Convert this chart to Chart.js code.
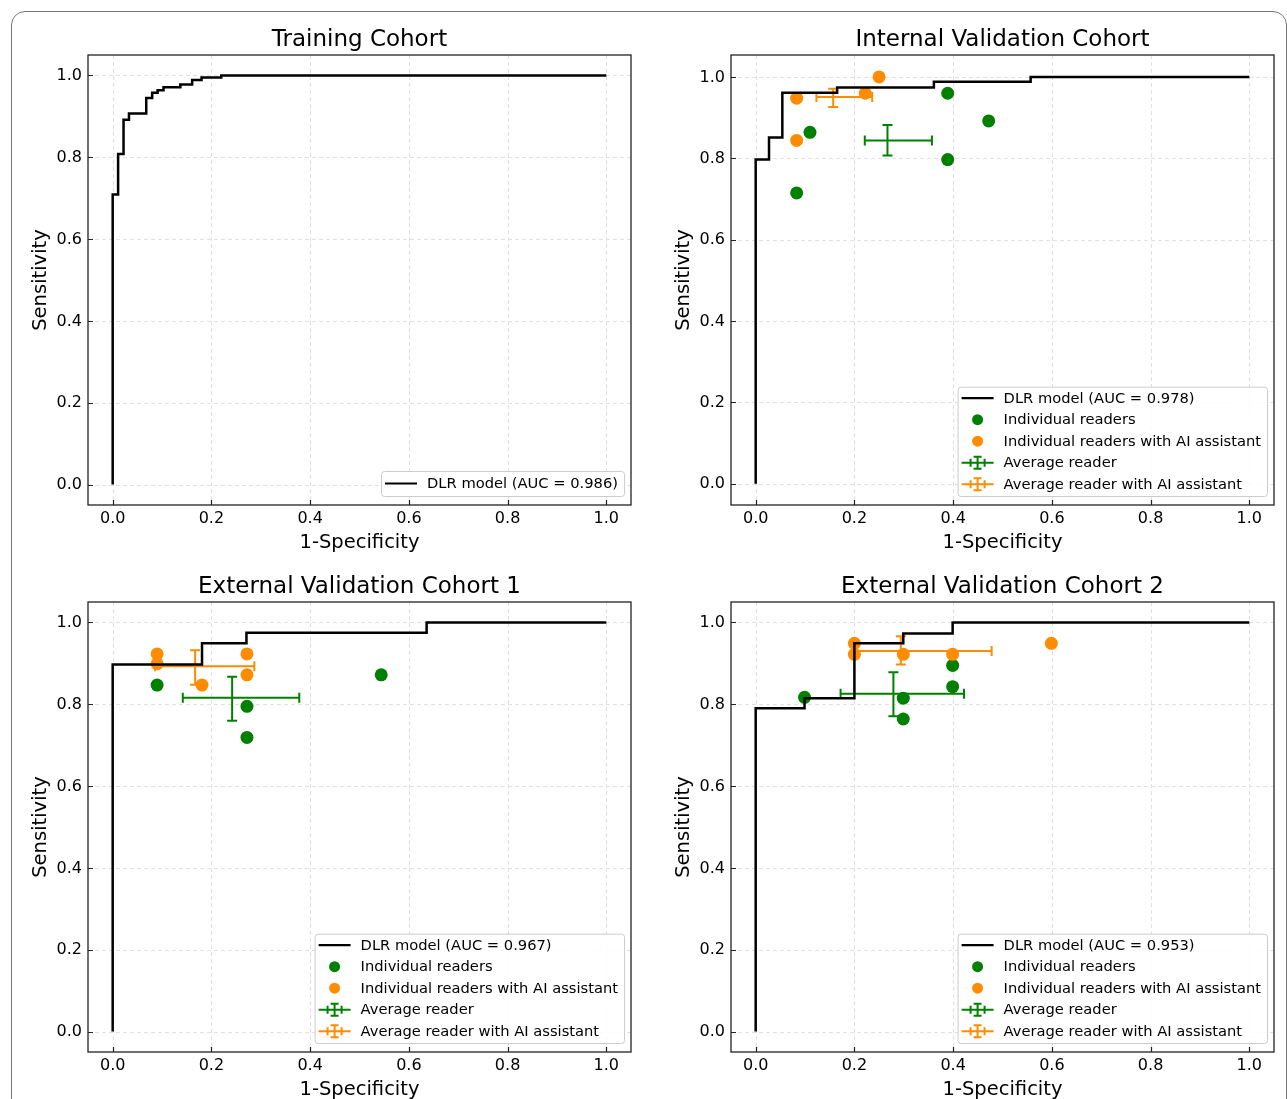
<!DOCTYPE html>
<html>
<head>
<meta charset="utf-8">
<script src="https://cdn.jsdelivr.net/npm/chart.js@4.4.0/dist/chart.umd.min.js"></script>
<style>
  body { margin: 0; background: #fff; width: 1287px; height: 1099px; overflow: hidden; position: relative; }
  #frame { position: absolute; left: 11px; top: 11px; width: 1274px; height: 1200px; border: 1px solid #777; border-radius: 14px; }
  canvas { position: absolute; }
</style>
</head>
<body>
<div id="frame"></div>
<canvas id="c0" width="643" height="555" style="left:0px;top:0px"></canvas>
<canvas id="c1" width="644" height="555" style="left:643px;top:0px"></canvas>
<canvas id="c2" width="643" height="544" style="left:0px;top:555px"></canvas>
<canvas id="c3" width="644" height="544" style="left:643px;top:555px"></canvas>
<script>
// ---- data ----
const xTicks = [0.0, 0.2, 0.4, 0.6, 0.8, 1.0];
const yTicks = [0.0, 0.2, 0.4, 0.6, 0.8, 1.0];

// Training cohort ROC
const trainFpr = [0, 0, 0.011, 0.011, 0.022, 0.022, 0.033, 0.033, 0.068, 0.068, 0.080, 0.080, 0.091, 0.091, 0.103, 0.103, 0.137, 0.137, 0.161, 0.161, 0.180, 0.180, 0.220, 0.220, 1.0];
const trainTpr = [0, 0.709, 0.709, 0.808, 0.808, 0.892, 0.892, 0.907, 0.907, 0.945, 0.945, 0.958, 0.958, 0.964, 0.964, 0.971, 0.971, 0.978, 0.978, 0.989, 0.989, 0.995, 0.995, 1.0, 1.0];

// Internal validation
const intFpr = [0, 0, 0.027, 0.027, 0.054, 0.054, 0.165, 0.165, 0.361, 0.361, 0.557, 0.557, 1.0];
const intTpr = [0, 0.797, 0.797, 0.851, 0.851, 0.961, 0.961, 0.974, 0.974, 0.988, 0.988, 1.0, 1.0];
const intReaderX = [0.083, 0.110, 0.389, 0.389, 0.472];
const intReaderY = [0.715, 0.864, 0.960, 0.797, 0.892];
const intAiX = [0.083, 0.083, 0.250, 0.222];
const intAiY = [0.948, 0.844, 1.0, 0.960];
// [x, xLow, xHigh, y, yLow, yHigh]
const intAvg = [0.267, 0.221, 0.357, 0.844, 0.807, 0.882];
const intAvgAi = [0.157, 0.123, 0.236, 0.951, 0.926, 0.971];

// External validation 1
const ext1Fpr = [0, 0, 0.181, 0.181, 0.271, 0.271, 0.636, 0.636, 1.0];
const ext1Tpr = [0, 0.897, 0.897, 0.949, 0.949, 0.975, 0.975, 1.0, 1.0];
const ext1ReaderX = [0.090, 0.272, 0.272, 0.544];
const ext1ReaderY = [0.847, 0.795, 0.719, 0.872];
const ext1AiX = [0.090, 0.090, 0.272, 0.272, 0.181];
const ext1AiY = [0.923, 0.899, 0.923, 0.872, 0.847];
const ext1Avg = [0.242, 0.142, 0.378, 0.816, 0.760, 0.867];
const ext1AvgAi = [0.167, 0.086, 0.287, 0.893, 0.848, 0.932];

// External validation 2
const ext2Fpr = [0, 0, 0.099, 0.099, 0.200, 0.200, 0.299, 0.299, 0.399, 0.399, 1.0];
const ext2Tpr = [0, 0.790, 0.790, 0.815, 0.815, 0.949, 0.949, 0.973, 0.973, 1.0, 1.0];
const ext2ReaderX = [0.099, 0.299, 0.299, 0.399, 0.399];
const ext2ReaderY = [0.817, 0.815, 0.764, 0.895, 0.843];
const ext2AiX = [0.200, 0.200, 0.299, 0.399, 0.599];
const ext2AiY = [0.949, 0.922, 0.922, 0.922, 0.949];
const ext2Avg = [0.279, 0.172, 0.422, 0.826, 0.771, 0.878];
const ext2AvgAi = [0.294, 0.202, 0.478, 0.930, 0.897, 0.966];

const GREEN = '#008000';
const ORANGE = '#ff8c00';
const FONT = '"DejaVu Sans", sans-serif';

Chart.defaults.font.family = FONT;

function pts(xs, ys) {
    return xs.map((x, i) => ({ x: x, y: ys[i] }));
}

// errorbar drawn from the scales
function drawErrorBar(ctx, xs, ys, e, color) {
    const cap = 5;
    const px = xs.getPixelForValue(e[0]), pxl = xs.getPixelForValue(e[1]), pxh = xs.getPixelForValue(e[2]);
    const py = ys.getPixelForValue(e[3]), pyl = ys.getPixelForValue(e[4]), pyh = ys.getPixelForValue(e[5]);
    ctx.strokeStyle = color;
    ctx.lineWidth = 2;
    ctx.beginPath();
    ctx.moveTo(pxl, py); ctx.lineTo(pxh, py);
    ctx.moveTo(px, pyl); ctx.lineTo(px, pyh);
    ctx.moveTo(pxl, py - cap); ctx.lineTo(pxl, py + cap);
    ctx.moveTo(pxh, py - cap); ctx.lineTo(pxh, py + cap);
    ctx.moveTo(px - cap, pyl); ctx.lineTo(px + cap, pyl);
    ctx.moveTo(px - cap, pyh); ctx.lineTo(px + cap, pyh);
    ctx.stroke();
}

function drawLegend(ctx, area, items) {
    ctx.save();
    ctx.font = '14.7px ' + FONT;
    const tw = Math.max(...items.map(it => ctx.measureText(it.label).width));
    const rowH = 21.5;
    const w = 4 + 32 + 10 + tw + 6;
    const h = items.length === 1 ? 25 : (items.length - 1) * rowH + 23.3;
    const right = area.right - 7, bottom = area.bottom - 9;
    const left = right - w, top = bottom - h;
    ctx.fillStyle = 'rgba(255,255,255,0.85)';
    ctx.strokeStyle = '#cccccc';
    ctx.lineWidth = 1;
    ctx.beginPath();
    ctx.roundRect(left + 0.5, top + 0.5, w, h, 3);
    ctx.fill();
    ctx.stroke();
    items.forEach((it, i) => {
        const y = top + (items.length === 1 ? 12.5 : 11.5) + i * rowH;
        const hx = left + 4, cx = hx + 16;
        if (it.kind === 'line') {
            ctx.strokeStyle = '#000'; ctx.lineWidth = 2.2;
            ctx.beginPath(); ctx.moveTo(hx, y); ctx.lineTo(hx + 32, y); ctx.stroke();
        } else if (it.kind === 'dot') {
            ctx.fillStyle = it.color;
            ctx.beginPath(); ctx.arc(cx, y, 5.5, 0, Math.PI * 2); ctx.fill();
        } else {
            ctx.strokeStyle = it.color; ctx.lineWidth = 2;
            ctx.beginPath();
            ctx.moveTo(hx, y); ctx.lineTo(hx + 32, y);
            ctx.moveTo(cx - 7, y - 4); ctx.lineTo(cx - 7, y + 4);
            ctx.moveTo(cx + 7, y - 4); ctx.lineTo(cx + 7, y + 4);
            ctx.moveTo(cx, y - 6); ctx.lineTo(cx, y + 6);
            ctx.moveTo(cx - 4, y - 6); ctx.lineTo(cx + 4, y - 6);
            ctx.moveTo(cx - 4, y + 6); ctx.lineTo(cx + 4, y + 6);
            ctx.stroke();
        }
        ctx.fillStyle = '#000';
        ctx.textAlign = 'left';
        ctx.textBaseline = 'middle';
        ctx.fillText(it.label, left + 46, y + 0.5);
    });
    ctx.restore();
}

const panelPlugin = {
    id: 'panelPlugin',
    beforeDatasetsDraw(chart) {
        const { ctx, chartArea: a, scales } = chart;
        const p = chart.options.plugins.panelPlugin;
        ctx.save();
        // dashed grid
        ctx.strokeStyle = '#e1e1e1';
        ctx.lineWidth = 1;
        ctx.setLineDash([4, 3]);
        ctx.beginPath();
        xTicks.forEach(v => {
            const x = Math.round(scales.x.getPixelForValue(v)) + 0.5;
            ctx.moveTo(x, a.top); ctx.lineTo(x, a.bottom);
        });
        yTicks.forEach(v => {
            const y = Math.round(scales.y.getPixelForValue(v)) + 0.5;
            ctx.moveTo(a.left, y); ctx.lineTo(a.right, y);
        });
        ctx.stroke();
        ctx.setLineDash([]);
        // error bars under the points
        ctx.beginPath();
        ctx.rect(a.left, a.top, a.right - a.left, a.bottom - a.top);
        ctx.clip();
        if (p.avg) drawErrorBar(ctx, scales.x, scales.y, p.avg, GREEN);
        if (p.avgAi) drawErrorBar(ctx, scales.x, scales.y, p.avgAi, ORANGE);
        ctx.restore();
    },
    afterDraw(chart) {
        const { ctx, chartArea: a, scales } = chart;
        const p = chart.options.plugins.panelPlugin;
        ctx.save();
        // frame
        ctx.strokeStyle = '#222';
        ctx.lineWidth = 1.3;
        ctx.strokeRect(a.left, a.top, a.right - a.left, a.bottom - a.top);
        // inward ticks
        ctx.beginPath();
        xTicks.forEach(v => {
            const x = Math.round(scales.x.getPixelForValue(v)) + 0.5;
            ctx.moveTo(x, a.bottom); ctx.lineTo(x, a.bottom - 5);
        });
        yTicks.forEach(v => {
            const y = Math.round(scales.y.getPixelForValue(v)) + 0.5;
            ctx.moveTo(a.left, y); ctx.lineTo(a.left + 5, y);
        });
        ctx.lineWidth = 1.2;
        ctx.stroke();
        // tick labels
        ctx.fillStyle = '#000';
        ctx.font = '16px ' + FONT;
        ctx.textBaseline = 'middle';
        ctx.textAlign = 'center';
        xTicks.forEach(v => ctx.fillText(v.toFixed(1), scales.x.getPixelForValue(v), a.bottom + 13.5));
        ctx.textAlign = 'right';
        yTicks.forEach(v => ctx.fillText(v.toFixed(1), a.left - 6, scales.y.getPixelForValue(v) + 0.5));
        // titles
        const mid = (a.left + a.right) / 2;
        ctx.textAlign = 'center';
        ctx.font = '23px ' + FONT;
        ctx.fillText(p.title, mid, a.top - 15);
        ctx.font = '19.5px ' + FONT;
        ctx.fillText('1-Specificity', mid, a.bottom + 38);
        ctx.save();
        ctx.translate(a.left - 47, (a.top + a.bottom) / 2);
        ctx.rotate(-Math.PI / 2);
        ctx.fillText('Sensitivity', 0, 0);
        ctx.restore();
        ctx.restore();
        drawLegend(ctx, a, p.legend);
    }
};

function makeChart(id, cfg) {
    const cv = document.getElementById(id);
    const left = parseFloat(cv.style.left), top = parseFloat(cv.style.top);
    const [pl, pt, pr, pb] = cfg.area;
    const datasets = [{
        label: 'DLR model',
        data: pts(cfg.fpr, cfg.tpr),
        showLine: true,
        borderColor: '#000',
        borderWidth: 2.5,
        pointRadius: 0,
        fill: false,
        tension: 0,
        order: 0
    }];
    if (cfg.aiX) datasets.push({
        label: 'Individual readers with AI assistant',
        data: pts(cfg.aiX, cfg.aiY),
        backgroundColor: ORANGE,
        borderWidth: 0,
        pointRadius: 6.5,
        order: 1
    });
    if (cfg.rX) datasets.push({
        label: 'Individual readers',
        data: pts(cfg.rX, cfg.rY),
        backgroundColor: GREEN,
        borderWidth: 0,
        pointRadius: 6.5,
        order: 2
    });
    const legend = [{ kind: 'line', label: 'DLR model (AUC = ' + cfg.auc + ')' }];
    if (cfg.rX) {
        legend.push({ kind: 'dot', color: GREEN, label: 'Individual readers' });
        legend.push({ kind: 'dot', color: ORANGE, label: 'Individual readers with AI assistant' });
        legend.push({ kind: 'err', color: GREEN, label: 'Average reader' });
        legend.push({ kind: 'err', color: ORANGE, label: 'Average reader with AI assistant' });
    }
    new Chart(cv.getContext('2d'), {
        type: 'scatter',
        data: { datasets: datasets },
        options: {
            responsive: false,
            devicePixelRatio: 1,
            animation: false,
            layout: { padding: { left: 0, top: pt - top, right: left + cv.width - pr, bottom: 0 } },
            scales: {
                x: {
                    type: 'linear', min: -0.05, max: 1.05,
                    grid: { display: false },
                    border: { display: false },
                    ticks: { display: false },
                    afterFit: s => { s.height = top + cv.height - pb; }
                },
                y: {
                    type: 'linear', min: cfg.yMin, max: cfg.yMax,
                    grid: { display: false },
                    border: { display: false },
                    ticks: { display: false },
                    afterFit: s => { s.width = pl - left; }
                }
            },
            plugins: {
                legend: { display: false },
                tooltip: { enabled: false },
                panelPlugin: { title: cfg.title, avg: cfg.avg, avgAi: cfg.avgAi, legend: legend }
            }
        },
        plugins: [panelPlugin]
    });
}

makeChart('c0', { title: 'Training Cohort', area: [88, 55, 631, 505], yMin: -0.05, yMax: 1.05,
    fpr: trainFpr, tpr: trainTpr, auc: '0.986' });
makeChart('c1', { title: 'Internal Validation Cohort', area: [731, 55, 1274, 505], yMin: -0.052, yMax: 1.054,
    fpr: intFpr, tpr: intTpr, auc: '0.978', rX: intReaderX, rY: intReaderY, aiX: intAiX, aiY: intAiY,
    avg: intAvg, avgAi: intAvgAi });
makeChart('c2', { title: 'External Validation Cohort 1', area: [88, 602, 631, 1052], yMin: -0.05, yMax: 1.05,
    fpr: ext1Fpr, tpr: ext1Tpr, auc: '0.967', rX: ext1ReaderX, rY: ext1ReaderY, aiX: ext1AiX, aiY: ext1AiY,
    avg: ext1Avg, avgAi: ext1AvgAi });
makeChart('c3', { title: 'External Validation Cohort 2', area: [731, 602, 1274, 1052], yMin: -0.05, yMax: 1.05,
    fpr: ext2Fpr, tpr: ext2Tpr, auc: '0.953', rX: ext2ReaderX, rY: ext2ReaderY, aiX: ext2AiX, aiY: ext2AiY,
    avg: ext2Avg, avgAi: ext2AvgAi });
</script>
</body>
</html>
